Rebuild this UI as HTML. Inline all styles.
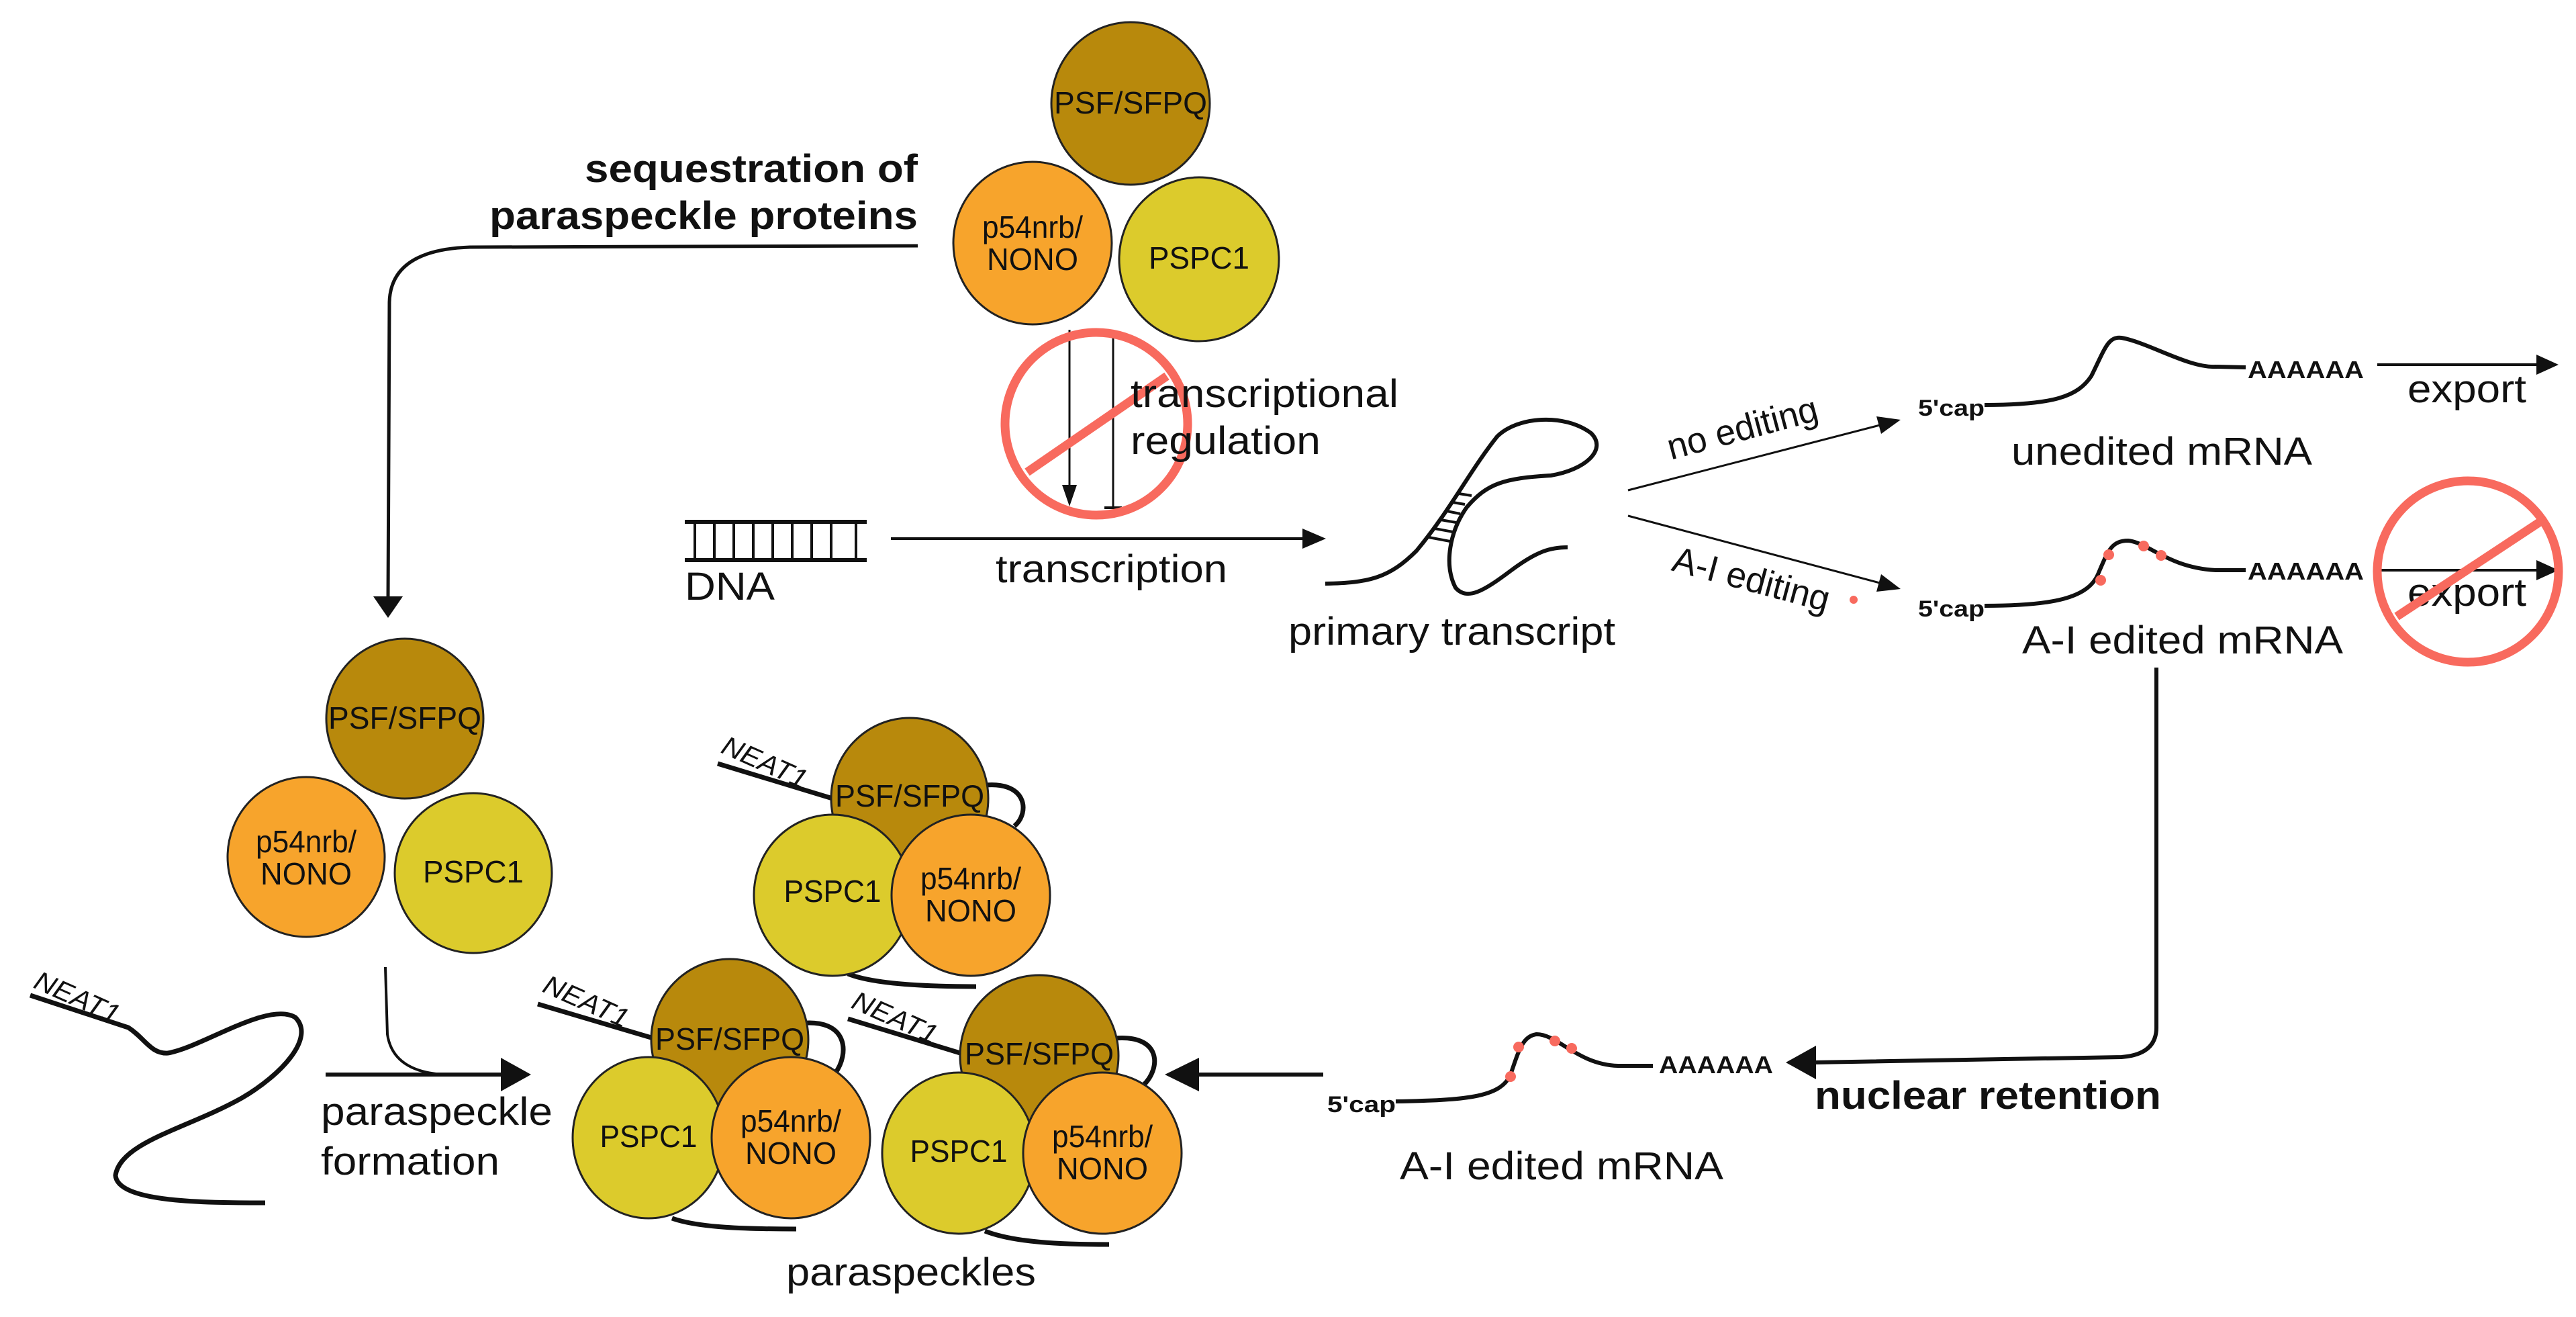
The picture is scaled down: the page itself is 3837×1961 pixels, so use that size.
<!DOCTYPE html>
<html><head><meta charset="utf-8"><style>
html,body{margin:0;padding:0;background:#fff}
svg{display:block}
text{font-family:"Liberation Sans Narrow","Liberation Sans",sans-serif;fill:#111}
.b{font-weight:bold}
</style></head><body>
<svg width="3837" height="1961" viewBox="0 0 3837 1961" xmlns="http://www.w3.org/2000/svg">
<rect width="3837" height="1961" fill="#fff"/>

<!-- top protein cluster -->
<g stroke="#222" stroke-width="3">
<ellipse cx="1684" cy="154" rx="118" ry="121" fill="#B8890C"/>
<ellipse cx="1538" cy="362" rx="118" ry="121" fill="#F7A42C"/>
<ellipse cx="1786" cy="386" rx="119" ry="122" fill="#DCCB2C"/>
</g>
<g font-size="46" text-anchor="middle">
<text x="1684" y="169" textLength="228" lengthAdjust="spacingAndGlyphs">PSF/SFPQ</text>
<text x="1538" y="354" textLength="150" lengthAdjust="spacingAndGlyphs">p54nrb/</text>
<text x="1538" y="402" textLength="136" lengthAdjust="spacingAndGlyphs">NONO</text>
<text x="1786" y="400" textLength="150" lengthAdjust="spacingAndGlyphs">PSPC1</text>
</g>

<!-- sequestration -->
<text class="b" x="1367" y="271" font-size="58" text-anchor="end" textLength="496" lengthAdjust="spacingAndGlyphs">sequestration of</text>
<text class="b" x="1367" y="341" font-size="58" text-anchor="end" textLength="638" lengthAdjust="spacingAndGlyphs">paraspeckle proteins</text>
<path d="M1367,366 L700,368 Q582,372 580,450 L578,892" fill="none" stroke="#111" stroke-width="5"/>
<path d="M556,888 L600,888 L578,920 z" fill="#111"/>

<!-- transcriptional regulation -->
<line x1="1593" y1="491" x2="1593" y2="722" stroke="#111" stroke-width="3"/>
<path d="M1582,722 L1604,722 L1593,754 z" fill="#111"/>
<line x1="1658" y1="491" x2="1658" y2="756" stroke="#111" stroke-width="3"/>
<line x1="1645" y1="756" x2="1671" y2="756" stroke="#111" stroke-width="4"/>
<circle cx="1633" cy="631" r="136" fill="none" stroke="#F86A5E" stroke-width="13"/>
<line x1="1530" y1="703" x2="1738" y2="560" stroke="#F86A5E" stroke-width="13"/>
<text x="1684" y="606" font-size="58" textLength="399" lengthAdjust="spacingAndGlyphs">transcriptional</text>
<text x="1684" y="676" font-size="58" textLength="283" lengthAdjust="spacingAndGlyphs">regulation</text>

<!-- DNA -->
<g stroke="#111">
<line x1="1020" y1="777" x2="1291" y2="777" stroke-width="6"/>
<line x1="1020" y1="834" x2="1291" y2="834" stroke-width="6"/>
<g stroke-width="4">
<line x1="1035" y1="777" x2="1035" y2="834"/><line x1="1064" y1="777" x2="1064" y2="834"/>
<line x1="1093" y1="777" x2="1093" y2="834"/><line x1="1122" y1="777" x2="1122" y2="834"/>
<line x1="1151" y1="777" x2="1151" y2="834"/><line x1="1180" y1="777" x2="1180" y2="834"/>
<line x1="1209" y1="777" x2="1209" y2="834"/><line x1="1238" y1="777" x2="1238" y2="834"/>
<line x1="1275" y1="777" x2="1275" y2="834"/>
</g></g>
<text x="1020" y="893" font-size="58" textLength="134" lengthAdjust="spacingAndGlyphs">DNA</text>
<line x1="1327" y1="802" x2="1945" y2="802" stroke="#111" stroke-width="4"/>
<path d="M1940,787 L1975,802 L1940,817 z" fill="#111"/>
<text x="1483" y="867" font-size="58" textLength="345" lengthAdjust="spacingAndGlyphs">transcription</text>

<!-- primary transcript -->
<path d="M1974,869 C2040,868 2070,860 2110,820 C2160,760 2190,700 2230,650 C2260,620 2330,615 2370,645 C2395,670 2360,700 2310,708 C2240,712 2215,720 2185,755 C2160,790 2150,840 2168,875 C2185,895 2210,880 2250,850 C2290,820 2310,815 2335,815" fill="none" stroke="#111" stroke-width="6"/>
<g stroke="#111" stroke-width="4">
<line x1="2128" y1="800" x2="2160" y2="806"/><line x1="2137" y1="787" x2="2164" y2="792"/>
<line x1="2146" y1="774" x2="2169" y2="778"/><line x1="2155" y1="761" x2="2175" y2="765"/>
<line x1="2164" y1="748" x2="2182" y2="751"/><line x1="2173" y1="735" x2="2192" y2="738"/>
</g>
<text x="1919" y="960" font-size="58" textLength="487" lengthAdjust="spacingAndGlyphs">primary transcript</text>

<!-- editing arrows -->
<line x1="2425" y1="730" x2="2800" y2="633" stroke="#111" stroke-width="3"/>
<path d="M2795,620 L2831,625 L2802,646 z" fill="#111"/>
<text x="2600" y="655" font-size="54" text-anchor="middle" transform="rotate(-15 2600 655)" textLength="230" lengthAdjust="spacingAndGlyphs">no editing</text>
<line x1="2425" y1="768" x2="2800" y2="868" stroke="#111" stroke-width="3"/>
<path d="M2802,855 L2831,877 L2795,881 z" fill="#111"/>
<text x="2604" y="880" font-size="54" text-anchor="middle" transform="rotate(15 2604 880)" textLength="240" lengthAdjust="spacingAndGlyphs">A-I editing</text>
<circle cx="2761" cy="893" r="6" fill="#F86A5E"/>

<!-- unedited mRNA -->
<text class="b" x="2857" y="619" font-size="34" textLength="99" lengthAdjust="spacingAndGlyphs">5'cap</text>
<path d="M2956,603 C3060,603 3095,590 3115,560 C3135,520 3140,500 3160,503 C3200,510 3260,548 3300,546 L3345,547" fill="none" stroke="#111" stroke-width="6"/>
<text class="b" x="3348" y="563" font-size="36" textLength="173" lengthAdjust="spacingAndGlyphs">AAAAAA</text>
<line x1="3541" y1="543" x2="3785" y2="543" stroke="#111" stroke-width="4"/>
<path d="M3778,528 L3811,543 L3778,558 z" fill="#111"/>
<text x="3586" y="599" font-size="58" textLength="177" lengthAdjust="spacingAndGlyphs">export</text>
<text x="2996" y="692" font-size="58" textLength="448" lengthAdjust="spacingAndGlyphs">unedited mRNA</text>

<!-- A-I edited mRNA (right) -->
<text class="b" x="2857" y="918" font-size="34" textLength="99" lengthAdjust="spacingAndGlyphs">5'cap</text>
<path d="M2956,902 C3060,902 3110,890 3125,855 C3140,820 3145,805 3170,805 C3200,808 3230,845 3300,849 L3345,849" fill="none" stroke="#111" stroke-width="6"/>
<g fill="#F86A5E"><circle cx="3141" cy="826" r="8"/><circle cx="3129" cy="864" r="8"/><circle cx="3193" cy="813" r="8"/><circle cx="3219" cy="827" r="8"/></g>
<text class="b" x="3348" y="863" font-size="36" textLength="173" lengthAdjust="spacingAndGlyphs">AAAAAA</text>
<line x1="3541" y1="849" x2="3785" y2="849" stroke="#111" stroke-width="4"/>
<path d="M3778,834 L3811,849 L3778,864 z" fill="#111"/>
<text x="3586" y="902" font-size="58" textLength="177" lengthAdjust="spacingAndGlyphs">export</text>
<circle cx="3676" cy="851" r="135" fill="none" stroke="#F86A5E" stroke-width="13"/>
<line x1="3570" y1="918" x2="3782" y2="778" stroke="#F86A5E" stroke-width="13"/>
<text x="3012" y="973" font-size="58" textLength="478" lengthAdjust="spacingAndGlyphs">A-I edited mRNA</text>

<!-- nuclear retention -->
<path d="M3212,994 L3212,1530 Q3212,1570 3160,1574 L2700,1582" fill="none" stroke="#111" stroke-width="6"/>
<path d="M2705,1557 L2705,1607 L2660,1582 z" fill="#111"/>
<text class="b" x="2703" y="1651" font-size="58" textLength="516" lengthAdjust="spacingAndGlyphs">nuclear retention</text>

<!-- A-I edited mRNA (bottom) -->
<text class="b" x="1977" y="1656" font-size="34" textLength="102" lengthAdjust="spacingAndGlyphs">5'cap</text>
<path d="M2079,1640 C2180,1638 2235,1635 2250,1600 C2262,1565 2268,1542 2289,1540 C2320,1540 2350,1585 2410,1587 L2462,1587" fill="none" stroke="#111" stroke-width="6"/>
<g fill="#F86A5E"><circle cx="2262" cy="1559" r="8"/><circle cx="2250" cy="1603" r="8"/><circle cx="2316" cy="1550" r="8"/><circle cx="2341" cy="1561" r="8"/></g>
<text class="b" x="2471" y="1598" font-size="36" textLength="170" lengthAdjust="spacingAndGlyphs">AAAAAA</text>
<text x="2085" y="1756" font-size="58" textLength="482" lengthAdjust="spacingAndGlyphs">A-I edited mRNA</text>

<!-- arrow into paraspeckles -->
<line x1="1971" y1="1600" x2="1780" y2="1600" stroke="#111" stroke-width="6"/>
<path d="M1786,1575 L1786,1625 L1735,1600 z" fill="#111"/>

<!-- left protein cluster -->
<g stroke="#222" stroke-width="3">
<ellipse cx="603" cy="1070" rx="117" ry="119" fill="#B8890C"/>
<ellipse cx="456" cy="1276" rx="117" ry="119" fill="#F7A42C"/>
<ellipse cx="705" cy="1300" rx="117" ry="119" fill="#DCCB2C"/>
</g>
<g font-size="46" text-anchor="middle">
<text x="603" y="1085" textLength="228" lengthAdjust="spacingAndGlyphs">PSF/SFPQ</text>
<text x="456" y="1269" textLength="150" lengthAdjust="spacingAndGlyphs">p54nrb/</text>
<text x="456" y="1317" textLength="136" lengthAdjust="spacingAndGlyphs">NONO</text>
<text x="705" y="1314" textLength="150" lengthAdjust="spacingAndGlyphs">PSPC1</text>
</g>

<!-- paraspeckle formation arrow -->
<path d="M574,1440 L577,1540 Q585,1595 660,1600" fill="none" stroke="#111" stroke-width="4"/>
<line x1="485" y1="1600" x2="750" y2="1600" stroke="#111" stroke-width="6"/>
<path d="M746,1575 L746,1625 L791,1600 z" fill="#111"/>
<text x="478" y="1675" font-size="58" textLength="345" lengthAdjust="spacingAndGlyphs">paraspeckle</text>
<text x="478" y="1749" font-size="58" textLength="266" lengthAdjust="spacingAndGlyphs">formation</text>

<!-- left NEAT1 -->
<text x="48" y="1470" font-size="40" font-style="italic" transform="rotate(24 48 1470)" textLength="135" lengthAdjust="spacingAndGlyphs">NEAT1</text>
<path d="M45,1482 L191,1530 C215,1545 225,1570 250,1568 C300,1560 400,1490 440,1515 C470,1545 420,1600 360,1635 C280,1680 180,1700 172,1750 C175,1790 300,1791 395,1791" fill="none" stroke="#111" stroke-width="7"/>

<!-- paraspeckle group A -->
<g fill="none" stroke="#111" stroke-width="7">
<line x1="1069" y1="1137" x2="1250" y2="1192"/>
<path d="M1460,1170 C1530,1160 1535,1210 1511,1230"/>
<path d="M1263,1450 C1300,1465 1380,1469 1454,1469"/>
</g>
<text x="1072" y="1120" font-size="40" font-style="italic" transform="rotate(24 1072 1120)" textLength="135" lengthAdjust="spacingAndGlyphs">NEAT1</text>
<g stroke="#222" stroke-width="3">
<ellipse cx="1355" cy="1189" rx="117" ry="120" fill="#B8890C"/>
<ellipse cx="1240" cy="1333" rx="117" ry="120" fill="#DCCB2C"/>
<ellipse cx="1446" cy="1333" rx="118" ry="120" fill="#F7A42C"/>
</g>
<g font-size="46" text-anchor="middle">
<text x="1355" y="1201" textLength="222" lengthAdjust="spacingAndGlyphs">PSF/SFPQ</text>
<text x="1240" y="1343" textLength="145" lengthAdjust="spacingAndGlyphs">PSPC1</text>
<text x="1446" y="1324" textLength="150" lengthAdjust="spacingAndGlyphs">p54nrb/</text>
<text x="1446" y="1372" textLength="136" lengthAdjust="spacingAndGlyphs">NONO</text>
</g>

<!-- paraspeckle group B -->
<g fill="none" stroke="#111" stroke-width="7">
<line x1="801" y1="1495" x2="980" y2="1548"/>
<path d="M1190,1524 C1265,1515 1265,1570 1244,1598"/>
<path d="M1001,1814 C1040,1828 1110,1830 1186,1830"/>
</g>
<text x="806" y="1476" font-size="40" font-style="italic" transform="rotate(24 806 1476)" textLength="135" lengthAdjust="spacingAndGlyphs">NEAT1</text>
<g stroke="#222" stroke-width="3">
<ellipse cx="1087" cy="1548" rx="117" ry="120" fill="#B8890C"/>
<ellipse cx="966" cy="1694" rx="113" ry="120" fill="#DCCB2C"/>
<ellipse cx="1178" cy="1694" rx="118" ry="120" fill="#F7A42C"/>
</g>
<g font-size="46" text-anchor="middle">
<text x="1087" y="1563" textLength="222" lengthAdjust="spacingAndGlyphs">PSF/SFPQ</text>
<text x="966" y="1708" textLength="145" lengthAdjust="spacingAndGlyphs">PSPC1</text>
<text x="1178" y="1685" textLength="150" lengthAdjust="spacingAndGlyphs">p54nrb/</text>
<text x="1178" y="1733" textLength="136" lengthAdjust="spacingAndGlyphs">NONO</text>
</g>

<!-- paraspeckle group C -->
<g fill="none" stroke="#111" stroke-width="7">
<line x1="1263" y1="1517" x2="1440" y2="1571"/>
<path d="M1660,1546 C1730,1540 1730,1590 1703,1616"/>
<path d="M1467,1833 C1510,1850 1580,1853 1652,1853"/>
</g>
<text x="1266" y="1500" font-size="40" font-style="italic" transform="rotate(24 1266 1500)" textLength="135" lengthAdjust="spacingAndGlyphs">NEAT1</text>
<g stroke="#222" stroke-width="3">
<ellipse cx="1548" cy="1572" rx="118" ry="120" fill="#B8890C"/>
<ellipse cx="1428" cy="1717" rx="114" ry="120" fill="#DCCB2C"/>
<ellipse cx="1642" cy="1717" rx="118" ry="120" fill="#F7A42C"/>
</g>
<g font-size="46" text-anchor="middle">
<text x="1548" y="1585" textLength="222" lengthAdjust="spacingAndGlyphs">PSF/SFPQ</text>
<text x="1428" y="1730" textLength="145" lengthAdjust="spacingAndGlyphs">PSPC1</text>
<text x="1642" y="1708" textLength="150" lengthAdjust="spacingAndGlyphs">p54nrb/</text>
<text x="1642" y="1756" textLength="136" lengthAdjust="spacingAndGlyphs">NONO</text>
</g>

<text x="1171" y="1914" font-size="58" textLength="372" lengthAdjust="spacingAndGlyphs">paraspeckles</text>
</svg>
</body></html>
